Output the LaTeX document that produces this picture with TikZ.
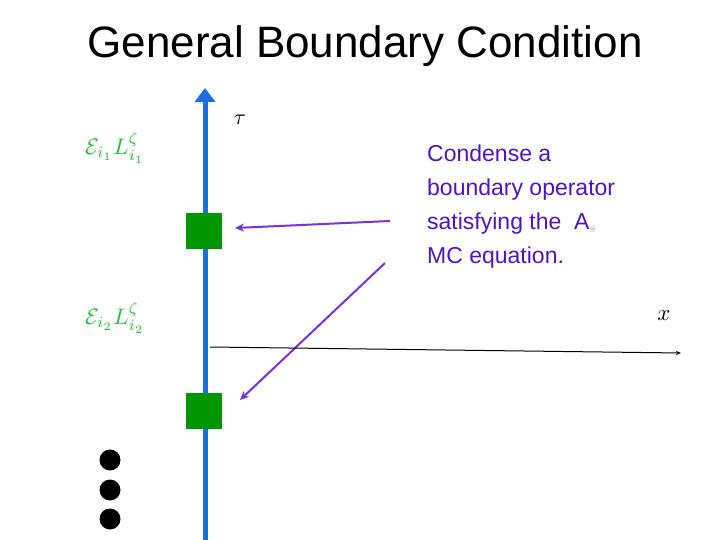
\documentclass[tikz,border=0pt]{standalone}
\usepackage{fontspec}
\usepackage{amsmath,amssymb}
\newfontfamily\arialf{Liberation Sans}
\usetikzlibrary{arrows.meta}
\definecolor{axblue}{RGB}{26,110,225}
\definecolor{lgreen}{RGB}{40,190,60}
\definecolor{dgreen}{RGB}{0,150,0}
\definecolor{purp}{RGB}{120,50,220}
\definecolor{txtp}{RGB}{80,20,190}
\tikzset{sq/.style={fill=dgreen,minimum size=36pt,inner sep=0},
 dot/.style={circle,fill=black,minimum size=21pt,inner sep=0},
 parr/.style={draw=purp,line width=2pt,-{Stealth[length=9pt,width=8pt]}},
 lab/.style={text=lgreen}}
\begin{document}
\begin{tikzpicture}[x=1pt,y=-1pt]
\useasboundingbox (0,0) rectangle (720,540);
\node (title) at (365,46) {\arialf\fontsize{44}{46}\selectfont General Boundary Condition};
\coordinate (ab) at (205,542);
\coordinate (at) at (205,88);
\draw[axblue,line width=5pt,-{Triangle[length=14pt,width=20pt]}] (ab) -- (at);
\node (tau) at (240,120) {\scalebox{2.2}{$\tau$}};
\node[lab] (l1) at (115,148) {\scalebox{2.25}{$\mathcal{E}_{i_1}L^{\zeta}_{i_1}$}};
\node[lab] (l2) at (115,318) {\scalebox{2.25}{$\mathcal{E}_{i_2}L^{\zeta}_{i_2}$}};
\node[sq] (s1) at (204,231) {};
\node[sq] (s2) at (204,411) {};
\node[dot] (d1) at (110,460) {};
\node[dot] (d2) at (110,490) {};
\node[dot] (d3) at (110,519) {};
\coordinate (p1) at (390,221);
\coordinate (q1) at (235,228);
\coordinate (p2) at (385,263);
\coordinate (q2) at (240,400);
\draw[parr] (p1) -- (q1);
\draw[parr] (p2) -- (q2);
\coordinate (xs) at (210,347);
\coordinate (xe) at (681,353);
\draw[line width=1pt,-{Stealth[length=5pt,width=4pt]}] (xs) -- (xe);
\node (xl) at (664,316) {\scalebox{2.3}{$x$}};
\node[anchor=north west,align=left,text=txtp,inner sep=0,font=\arialf\fontsize{23}{34}\selectfont] (txt) at (427,145)
 {Condense a\\boundary operator\\satisfying the\ \ A{\large$_{\circledcirc}$}\\MC equation.};
\end{tikzpicture}
\end{document}
